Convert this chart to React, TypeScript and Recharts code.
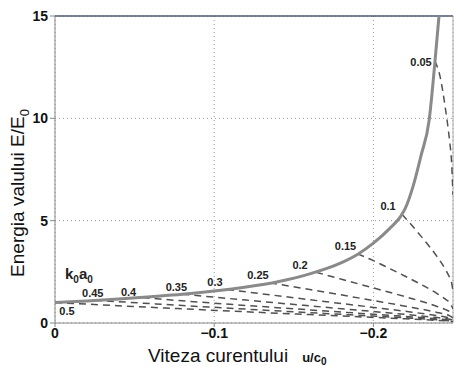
import React from 'react';
import { LineChart, Line, XAxis, YAxis, CartesianGrid, ReferenceLine, LabelList } from 'recharts';

// wave energy vs opposing current (solid curve)
const curveU = [0, -0.02, -0.04, -0.06, -0.08, -0.1, -0.12, -0.14, -0.16, -0.18, -0.19, -0.2, -0.21, -0.217, -0.22, -0.225, -0.23, -0.235, -0.2387, -0.2412];
const curveE = [1.0, 1.08, 1.17, 1.28, 1.4, 1.56, 1.76, 2.02, 2.4, 2.95, 3.35, 3.9, 4.6, 5.2, 5.6, 6.7, 8.2, 9.9, 12.8, 15];

// initial steepness k0a0 of each breaking-limit line
const steepness = ['0.5', '0.45', '0.4', '0.35', '0.3', '0.25', '0.2', '0.15', '0.1', '0.05'];

// breaking-limit lines (dashed), starting on the curve
const breakU = [
  [0, -0.04, -0.08, -0.12, -0.16, -0.2, -0.22, -0.24, -0.245, -0.248, -0.25],
  [-0.025, -0.04, -0.08, -0.12, -0.16, -0.2, -0.22, -0.24, -0.245, -0.248, -0.25],
  [-0.055, -0.08, -0.12, -0.16, -0.2, -0.22, -0.24, -0.245, -0.248, -0.25],
  [-0.08, -0.12, -0.16, -0.2, -0.22, -0.24, -0.245, -0.248, -0.25],
  [-0.108, -0.12, -0.16, -0.2, -0.22, -0.24, -0.245, -0.248, -0.25],
  [-0.135, -0.16, -0.2, -0.22, -0.24, -0.245, -0.248, -0.25],
  [-0.164, -0.18, -0.2, -0.22, -0.24, -0.245, -0.248, -0.25],
  [-0.19, -0.2, -0.21, -0.22, -0.23, -0.24, -0.245, -0.248, -0.25],
  [-0.218, -0.22, -0.23, -0.24, -0.245, -0.248, -0.249, -0.25],
  [-0.2387, -0.242, -0.245, -0.248, -0.249, -0.25],
];
const breakE = [
  [1.0, 0.843, 0.693, 0.548, 0.41, 0.274, 0.205, 0.13, 0.106, 0.088, 0.063],
  [1.11, 1.041, 0.855, 0.677, 0.506, 0.339, 0.254, 0.16, 0.131, 0.109, 0.077],
  [1.24, 1.082, 0.857, 0.64, 0.428, 0.321, 0.203, 0.166, 0.138, 0.098],
  [1.41, 1.119, 0.836, 0.56, 0.419, 0.264, 0.217, 0.18, 0.128],
  [1.64, 1.523, 1.138, 0.762, 0.571, 0.36, 0.295, 0.244, 0.174],
  [1.96, 1.638, 1.097, 0.822, 0.518, 0.424, 0.352, 0.25],
  [2.48, 2.136, 1.714, 1.284, 0.81, 0.663, 0.55, 0.391],
  [3.38, 3.047, 2.668, 2.282, 1.881, 1.44, 1.179, 0.978, 0.694],
  [5.3, 5.135, 4.233, 3.24, 2.653, 2.2, 2.0, 1.563],
  [12.8, 12.0, 10.6, 8.8, 8.0, 6.25],
];

const xTicks = [0, -0.1, -0.2];
const yTicks = [0, 5, 10, 15];

const FONT = '"Liberation Sans", Arial, sans-serif';

// label offsets from the first point of each dashed line
const labelOffset: Record<string, [number, number]> = {
  '0.5': [12, 8],
  '0.45': [-2, -7],
  '0.4': [-14, -6],
  '0.35': [-6, -7],
  '0.3': [-12, -7],
  '0.25': [-12, -8],
  '0.2': [-16, -7],
  '0.15': [-12, -8],
  '0.1': [-14, -9],
  '0.05': [-14, 1],
};

const curveData = curveU.map((u, i) => ({ u, e: curveE[i] }));
const breakData = breakU.map((us, j) => us.map((u, i) => ({ u, e: breakE[j][i] })));

const fmtX = (v: number) => (v === 0 ? '0' : '\u2212' + Math.abs(v).toString());

const tickStyle = { fontFamily: FONT, fontSize: 14, fontWeight: 'bold', fill: '#111' };

export default function App() {
  return (
    <div style={{ position: 'absolute', left: 0, top: 0, width: 454, height: 366, background: '#fff' }}>
      <LineChart width={454} height={366} margin={{ top: 16, right: 1, bottom: 0, left: 0 }}>
        <CartesianGrid stroke="#9a9a9a" strokeDasharray="1 3" />
        <XAxis
          dataKey="u"
          type="number"
          domain={[-0.25, 0]}
          reversed
          allowDataOverflow
          ticks={xTicks}
          tickFormatter={fmtX}
          height={43}
          tickSize={4}
          tickMargin={1}
          tick={tickStyle}
          stroke="#888"
        />
        <YAxis
          type="number"
          domain={[0, 15]}
          ticks={yTicks}
          width={55}
          tickSize={5}
          tickMargin={2}
          tick={tickStyle}
          stroke="#888"
        />
        <ReferenceLine y={15} stroke="#4f5b70" strokeWidth={1.5} />
        <ReferenceLine x={-0.25} stroke="#aaa" />
        {breakData.map((d, j) => (
          <Line
            key={steepness[j]}
            data={d}
            dataKey="e"
            type="monotone"
            stroke="#505050"
            strokeWidth={1.5}
            strokeDasharray="7 5"
            dot={false}
            activeDot={false}
            isAnimationActive={false}
          >
            <LabelList
              dataKey="e"
              content={(p: any) => {
                if (p.index !== 0) return null;
                const [dx, dy] = labelOffset[steepness[j]];
                return (
                  <text
                    x={p.x + dx}
                    y={p.y + dy}
                    textAnchor="middle"
                    dominantBaseline="central"
                    fontFamily={FONT}
                    fontSize={11}
                    fontWeight="bold"
                    fill="#222"
                  >
                    {steepness[j]}
                  </text>
                );
              }}
            />
          </Line>
        ))}
        <Line
          data={curveData}
          dataKey="e"
          type="monotone"
          stroke="#8a8a8a"
          strokeWidth={3}
          dot={false}
          activeDot={false}
          isAnimationActive={false}
        />
      </LineChart>
      <svg width={454} height={366} style={{ position: 'absolute', left: 0, top: 0, pointerEvents: 'none' }}>
        <text
          transform="translate(24,193) rotate(-90)"
          textAnchor="middle"
          fontFamily={FONT}
          fontSize={19}
          fill="#111"
        >
          Energia valului E/E
          <tspan fontSize={13} dy={5}>0</tspan>
        </text>
        <text x={148} y={362} fontFamily={FONT} fontSize={19} fill="#111">
          Viteza curentului
          <tspan fontSize={13} fontWeight="bold" dx={14}>u/c</tspan>
          <tspan fontSize={10} fontWeight="bold" dy={3}>0</tspan>
        </text>
        <text x={65} y={279} fontFamily={FONT} fontSize={15} fontWeight="bold" fill="#222">
          k<tspan fontSize={10} dy={4}>0</tspan>
          <tspan dy={-4}>a</tspan>
          <tspan fontSize={10} dy={4}>0</tspan>
        </text>
      </svg>
    </div>
  );
}
